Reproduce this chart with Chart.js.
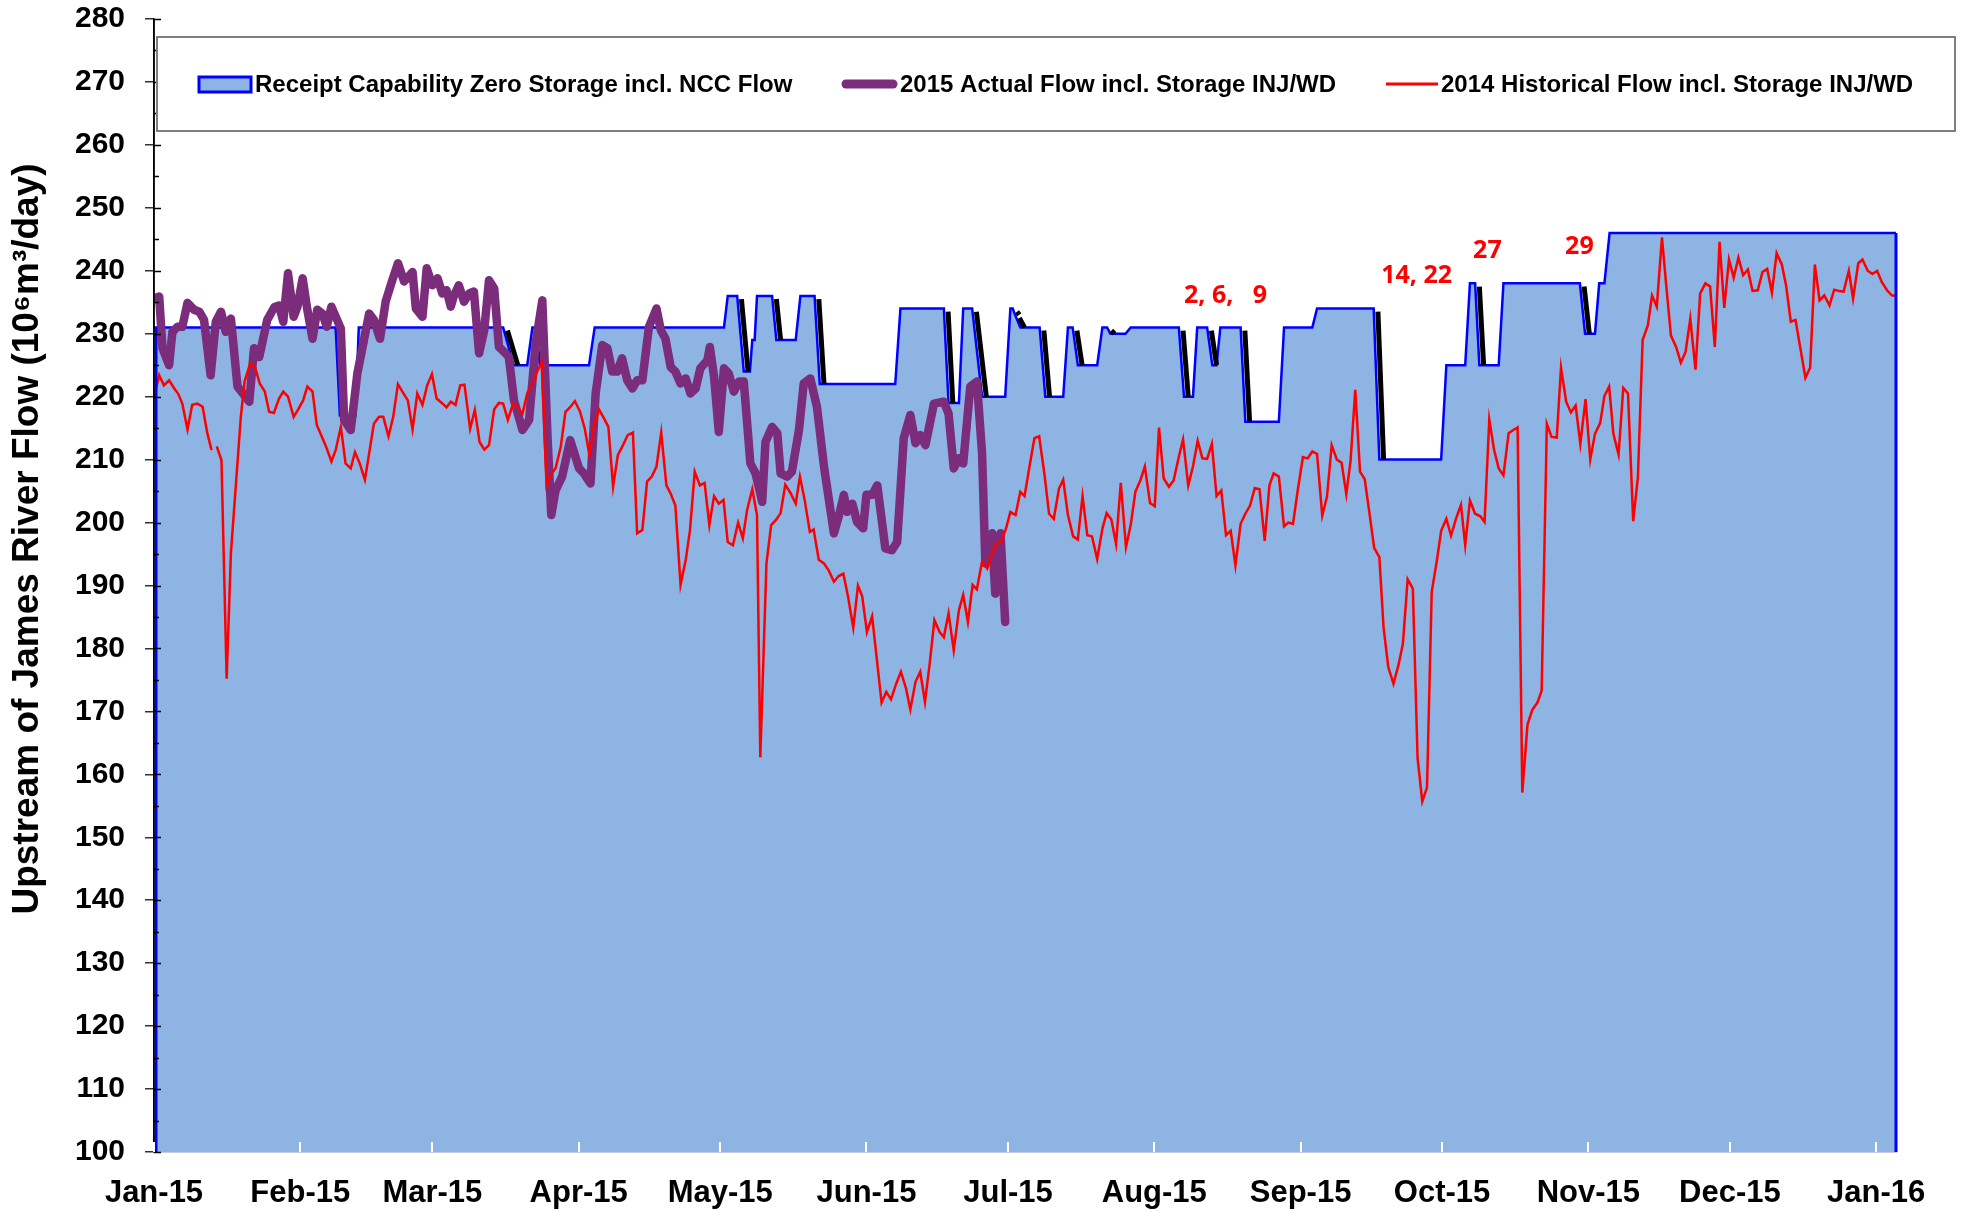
<!DOCTYPE html>
<html>
<head>
<meta charset="utf-8">
<title>Upstream of James River Flow</title>
<script src="https://cdn.jsdelivr.net/npm/chart.js@4.4.1/dist/chart.umd.min.js"></script>
<style>
  body { margin: 0; background: #fff; }
  #wrap { width: 1969px; height: 1212px; position: relative; }
</style>
</head>
<body>
<div id="wrap"><canvas id="mainChart"></canvas></div>
<script>
// x values are days since 1 Jan 2015
const monthDays = [0, 31, 59, 90, 120, 151, 181, 212, 243, 273, 304, 334, 365]
const monthLabels = ['Jan-15', 'Feb-15', 'Mar-15', 'Apr-15', 'May-15', 'Jun-15', 'Jul-15',
                     'Aug-15', 'Sep-15', 'Oct-15', 'Nov-15', 'Dec-15', 'Jan-16']

// Receipt Capability Zero Storage incl. NCC Flow (step line)
const capDays = [0, 38.5, 39.4, 42.7, 43.4, 74.0, 76.2, 79.1, 80.2, 81.0, 81.8, 92.2, 93.4,
  120.8, 121.6, 123.6, 125.0, 126.3, 126.8, 127.3, 127.8, 131.0, 131.9, 136.0, 137.0, 140.0, 141.1,
  157.1, 158.2, 167.4, 168.4, 170.6, 171.5, 173.4, 175.5, 180.4, 181.5, 182.0, 182.5, 183.6, 187.7, 188.9,
  192.7, 193.7, 194.7, 195.8, 199.9, 201.0, 202.0, 202.7, 205.9, 207.0, 217.2, 218.3, 220.2, 221.1,
  223.2, 224.3, 225.2, 226.0, 230.3, 231.3, 238.4, 239.5, 245.5, 246.5, 258.5, 259.7, 272.8, 273.9,
  277.9, 278.9, 280.0, 280.9, 285.0, 286.0, 302.2, 303.3, 305.4, 306.3, 307.4, 308.5, 369.2]
const capFlow = [231, 231, 217, 217, 231, 231, 225, 225, 231, 231, 225, 225, 231,
  231, 236, 236, 224, 224, 229, 229, 236, 236, 229, 229, 236, 236, 222,
  222, 234, 234, 219, 219, 234, 234, 220, 220, 234, 234, 233, 231, 231, 220,
  220, 231, 231, 225, 225, 231, 231, 230, 230, 231, 231, 220, 220, 231,
  231, 225, 225, 231, 231, 216, 216, 231, 231, 234, 234, 210, 210, 225,
  225, 238, 238, 225, 225, 238, 238, 230, 230, 238, 238, 246, 246]

// 2015 Actual Flow incl. Storage INJ/WD
const actDays = [0, 1.1, 1.8, 3.2, 3.9, 5.0, 6.0, 7.1, 8.5, 9.6, 10.6, 12.0, 13.1, 14.2, 15.2, 16.3,
  17.7, 20.2, 21.2, 22.3, 24.0, 25.5, 26.5, 27.4, 28.4, 29.6, 30.4, 31.5, 32.5, 33.6, 34.6, 35.7,
  36.6, 37.6, 39.6, 40.3, 41.7, 43.1, 45.6, 46.6, 47.9, 49.1, 50.5, 51.7, 53.0, 54.8, 55.5, 56.9,
  57.8, 59.0, 60.1, 61.1, 62.0, 62.9, 63.6, 64.6, 65.7, 66.8, 67.8, 68.9, 70.0, 71.0, 72.1, 73.1,
  74.5, 75.2, 76.3, 78.1, 79.5, 80.9, 82.3, 83.4, 84.2, 85.1, 86.5, 88.2, 90.1, 91.1, 92.5, 93.6,
  95.0, 96.1, 97.1, 98.2, 99.2, 100.3, 101.4, 102.4, 103.5, 104.9, 106.5, 107.4, 108.4, 109.5,
  110.5, 111.6, 112.7, 113.7, 114.8, 115.8, 117.3, 117.8, 118.7, 119.7, 120.8, 121.8, 122.9, 124.0,
  125.0, 126.4, 127.5, 128.9, 129.6, 131.0, 132.1, 132.8, 134.2, 135.2, 136.7, 137.7, 139.1, 140.5,
  142.0, 144.1, 145.1, 146.2, 146.9, 148.0, 149.0, 150.3, 151.0, 152.2, 153.3, 155.0, 156.4, 157.5,
  158.9, 160.3, 161.4, 162.4, 163.5, 165.3, 167.4, 168.4, 169.5, 170.6, 171.5, 173.0, 174.4, 175.5,
  176.2, 177.6, 178.3, 179.4, 180.4]
const actFlow = [235.6, 235.9, 227.7, 225.0, 230.3, 231.1, 231.1, 234.9, 233.8, 233.5, 232.2, 223.4, 231.9, 233.5, 230.3, 232.4,
  221.6, 219.2, 227.7, 226.3, 232.2, 234.2, 234.5, 231.9, 239.6, 232.7, 234.3, 238.8, 233.8, 229.2, 233.8, 233.2,
  231.1, 234.3, 230.8, 216.3, 214.7, 223.7, 233.2, 232.2, 229.2, 235.1, 238.5, 241.2, 238.3, 239.8, 234.0, 232.7,
  240.4, 237.7, 238.8, 236.4, 236.9, 234.3, 236.1, 237.7, 235.1, 236.4, 236.7, 226.9, 230.6, 238.5, 237.2, 227.9,
  226.9, 226.3, 219.4, 214.7, 216.3, 228.5, 235.3, 213.6, 201.2, 205.1, 207.3, 213.1, 208.6, 207.8, 206.2, 220.5,
  228.2, 227.7, 224.0, 224.0, 226.1, 222.6, 221.3, 222.6, 222.6, 231.1, 234.0, 230.6, 229.2, 224.7,
  224.0, 222.1, 222.9, 220.5, 221.3, 224.5, 225.8, 227.9, 223.2, 214.4, 224.5, 223.7, 220.8, 222.4,
  222.4, 209.4, 207.8, 203.3, 212.8, 215.2, 214.2, 207.8, 207.3, 208.1, 214.7, 222.1, 222.9, 218.4,
  208.9, 198.3, 200.9, 204.4, 201.7, 203.0, 200.1, 199.1, 204.4, 204.4, 205.9, 195.9, 195.6, 196.9,
  213.4, 217.1, 212.6, 213.9, 212.3, 218.9, 219.2, 217.3, 208.6, 210.2, 209.4, 221.6, 222.4, 211.0,
  193.5, 198.3, 188.7, 198.3, 184.2]

// 2014 Historical Flow incl. Storage INJ/WD (null = missing day)
const histDays = [0, 1.1, 2.1, 3.2, 4.3, 5.1, 6.0, 7.1, 8.1, 9.2, 10.3, 11.3, 12.2, 12.8, 13.3, 14.3,
  15.4, 16.3, 18.4, 19.2, 20.4, 21.4, 22.4, 23.5, 24.4, 25.4, 26.5, 27.4, 28.4, 29.6, 30.5, 31.6,
  32.5, 33.6, 34.5, 35.6, 36.6, 37.6, 38.5, 39.6, 40.6, 41.7, 42.6, 43.6, 44.7, 46.6, 47.7, 48.6,
  49.7, 50.7, 51.7, 52.9, 53.8, 54.8, 55.8, 56.9, 57.9, 58.9, 59.9, 61.0, 62.0, 62.9, 63.9, 64.9,
  65.8, 67.0, 68.0, 69.0, 70.0, 71.0, 72.1, 73.1, 74.0, 75.0, 76.1, 77.0, 78.1, 79.1, 80.2, 81.2,
  82.2, 83.2, 84.3, 85.1, 86.2, 87.2, 88.3, 89.2, 90.3, 91.3, 92.3, 93.2, 94.3, 95.4, 96.3, 97.3,
  98.3, 99.4, 100.4, 101.5, 102.4, 103.5, 104.5, 105.5, 106.5, 107.5, 108.6, 109.5, 110.5, 111.6,
  112.7, 113.6, 114.6, 115.7, 116.7, 117.7, 118.7, 119.7, 120.7, 121.6, 122.7, 123.8, 124.8, 125.7,
  126.8, 127.8, 128.5, 129.8, 130.8, 131.9, 132.8, 133.8, 134.9, 136.0, 136.9, 137.9, 139.0, 139.8,
  140.9, 142.0, 143.0, 144.1, 145.1, 146.1, 147.1, 148.2, 149.2, 150.1, 151.1, 152.2, 153.3, 154.2,
  155.2, 156.2, 157.3, 158.3, 159.4, 160.3, 161.4, 162.4, 163.4, 164.4, 165.4, 166.5, 167.4, 168.4,
  169.5, 170.6, 171.5, 172.5, 173.5, 174.4, 175.5, 176.6, 177.6, 178.5, 179.5, 180.6, 181.5, 182.6,
  183.6, 184.5, 185.6, 186.6, 187.6, 188.7, 189.7, 190.7, 191.8, 192.7, 193.7, 194.8, 195.8, 196.8,
  197.8, 198.8, 199.9, 201.0, 201.9, 202.9, 203.9, 204.9, 206.0, 207.0, 208.0, 209.1, 210.0, 211.1,
  212.1, 213.0, 214.0, 215.1, 216.1, 217.2, 218.1, 219.2, 220.2, 221.2, 222.2, 223.2, 224.2, 225.2,
  226.2, 227.2, 228.2, 229.2, 230.3, 231.3, 232.3, 233.3, 234.3, 235.4, 236.4, 237.3, 238.4, 239.5,
  240.4, 241.4, 242.4, 243.5, 244.5, 245.5, 246.5, 247.6, 248.6, 249.6, 250.7, 251.7, 252.7, 253.6,
  254.6, 255.6, 256.6, 257.6, 258.6, 259.7, 260.6, 261.6, 262.7, 263.8, 264.7, 265.7, 266.8, 267.8,
  268.8, 269.8, 270.8, 271.9, 272.8, 273.9, 274.9, 275.9, 277.0, 277.9, 278.9, 280.0, 281.1, 282.0,
  283.0, 284.0, 285.0, 286.0, 287.1, 288.1, 289.0, 290.0, 291.1, 292.1, 293.2, 294.1, 295.2, 296.2,
  297.3, 298.2, 299.3, 300.3, 301.3, 302.3, 303.4, 304.4, 305.4, 306.5, 307.4, 308.4, 309.3, 310.4,
  311.4, 312.4, 313.5, 314.5, 315.5, 316.6, 317.5, 318.5, 319.6, 320.5, 321.5, 322.6, 323.6, 324.6,
  325.6, 326.7, 327.7, 328.8, 329.8, 330.8, 331.8, 332.8, 333.8, 334.8, 335.8, 336.8, 337.8, 338.8,
  339.9, 340.9, 341.9, 342.9, 343.9, 345.0, 345.9, 346.9, 347.9, 349.0, 350.0, 351.0, 352.0, 353.0,
  354.0, 355.1, 356.1, 357.1, 358.1, 359.2, 360.1, 361.2, 362.1, 363.2, 364.2, 365.2, 366.2, 367.3,
  368.3, 369.2]
const histFlow = [220.0, 223.4, 221.8, 222.6, 221.3, 220.5, 218.9, 214.8, 218.7, 218.9, 218.4, 214.2, 211.5, null, 212.1, 209.9,
  175.2, 195.1, 216.8, 222.4, 225.3, 224.7, 222.1, 220.8, 217.6, 217.4, 219.7, 220.8, 220.0, 216.8, 217.9, 219.4,
  221.6, 220.8, 215.5, 213.6, 211.8, 209.7, 211.5, 215.2, 209.4, 208.6, 211.2, 209.4, 206.8, 215.7, 216.8, 216.8,
  213.7, 216.8, 222.0, 220.5, 219.4, 214.8, 220.5, 218.7, 221.8, 223.6, 219.7, 219.0, 218.3, 219.2, 218.7, 221.8,
  221.9, 214.9, 217.9, 212.8, 211.6, 212.3, 218.0, 219.0, 218.9, 216.3, 218.9, 218.4, 217.3, 220.5, 222.1, 224.0,
  225.5, 205.9, 207.8, 208.6, 212.0, 217.6, 218.4, 219.3, 217.6, 214.9, 210.7, 215.2, 218.0, 216.5, 215.2, 205.7,
  210.7, 212.3, 213.9, 214.3, 198.3, 198.8, 206.5, 207.3, 208.9, 214.3, 205.9, 204.6, 202.7, 190.1,
  194.1, 198.8, 208.1, 205.9, 206.3, 199.6, 204.2, 203.0, 203.6, 196.9, 196.4, 200.0, 197.5, 202.0,
  205.3, 201.2, 162.7, 193.5, 199.6, 200.5, 201.5, 206.0, 204.7, 203.0, 207.3, 203.6, 198.5, 198.9,
  194.1, 193.5, 192.4, 190.6, 191.5, 191.9, 188.2, 183.3, 190.0, 188.3, 182.6, 185.1, 177.6, 171.4,
  173.1, 171.9, 174.4, 176.3, 173.6, 170.3, 174.7, 176.3, 171.5, 177.6, 184.5, 182.6, 181.8, 185.6,
  179.7, 186.1, 188.5, 184.2, 190.1, 189.4, 193.8, 192.7, 195.1, 196.7, 196.8, 199.1, 201.7, 201.2,
  204.9, 204.2, 209.1, 213.4, 213.7, 207.8, 201.4, 200.6, 205.4, 206.8, 201.2, 197.8, 197.3, 204.2,
  198.0, 197.8, 194.2, 199.0, 201.5, 200.5, 196.6, 206.3, 196.1, 199.6, 204.9, 206.8, 208.9, 203.1,
  202.6, 215.1, 207.0, 205.7, 206.7, 210.4, 213.2, 205.9, 208.9, 213.0, 210.2, 210.1, 212.5, 204.2,
  205.1, 198.0, 198.7, 193.2, 199.8, 201.4, 202.7, 205.5, 205.3, 197.1, 205.9, 207.8, 207.3, 199.4,
  200.0, 199.8, 205.1, 210.4, 210.2, 211.3, 210.9, 201.1, 204.1, 212.3, 210.0, 209.5, 204.5, 209.8,
  221.1, 208.1, 206.9, 201.5, 196.0, 194.5, 183.3, 177.0, 174.4, 177.5, 180.8, 191.0, 189.5, 162.6,
  155.7, 157.9, 189.0, 194.0, 198.7, 200.6, 197.9, 200.5, 202.8, 196.4, 203.5, 201.4, 201.0, 200.1,
  216.4, 211.6, 208.6, 207.5, 214.2, 214.7, 215.1, 157.1, 167.9, 170.2, 171.4, 173.3, 215.7, 213.6,
  213.5, 224.6, 219.2, 217.5, 218.6, 212.5, 219.6, 210.0, 214.1, 215.8, 220.1, 221.6, 214.1, 210.8,
  221.4, 220.5, 200.2, 207.2, 229.0, 231.3, 236.1, 234.3, 245.3, 237.7, 229.7, 227.9, 225.4, 227.1,
  232.4, 224.3, 236.4, 238.0, 237.5, 227.9, 244.6, 234.1, 241.8, 238.9, 242.1, 239.3, 240.2, 236.8,
  236.9, 239.8, 240.3, 236.5, 242.8, 241.0, 237.7, 231.9, 232.2, 227.4, 223.0, 224.6, 241.0, 235.3,
  236.1, 234.5, 237.0, 236.8, 236.7, 240.0, 235.6, 241.2, 241.8, 240.0, 239.5, 240.0, 238.2, 236.9,
  236.1, 236.0]

// red notes above the capability line
const noteText = ['2, 6,   9', '14, 22', '27', '29']
const noteDay = [227.1, 267.6, 282.6, 302.1]
const noteFlow = [236.0, 239.2, 243.1, 243.8]

const FONT = "'Liberation Sans', Arial, sans-serif"
const FILL = '#8eb4e3'

function toPoints(xs, ys) {
    let pts = []
    for (let i = 0; i < xs.length; i++) {
        pts.push({ x: xs[i], y: ys[i] })
    }
    return pts
}

// black shadow next to every drop of the capability line
function dropShadow(xs, ys) {
    let pts = []
    for (let i = 0; i < xs.length - 1; i++) {
        if (ys[i + 1] < ys[i]) {
            pts.push({ x: xs[i] + 0.9, y: ys[i] - 0.5 })
            pts.push({ x: xs[i + 1] + 0.9, y: ys[i + 1] })
            pts.push({ x: xs[i + 1] + 1.0, y: null })
        }
    }
    return pts
}

const decor = {
    id: 'decor',
    afterDatasetsDraw(chart) {
        const ctx = chart.ctx
        const x = chart.scales.x
        const y = chart.scales.y
        const area = chart.chartArea
        ctx.save()
        // area edges
        ctx.strokeStyle = '#0000ff'
        ctx.lineWidth = 3
        ctx.beginPath()
        ctx.moveTo(area.left + 2, y.getPixelForValue(capFlow[0]))
        ctx.lineTo(area.left + 2, area.bottom)
        ctx.moveTo(x.getPixelForValue(capDays[capDays.length - 1]), y.getPixelForValue(capFlow[capFlow.length - 1]))
        ctx.lineTo(x.getPixelForValue(capDays[capDays.length - 1]), area.bottom)
        ctx.stroke()
        // y axis line and inner ticks
        ctx.strokeStyle = '#000'
        ctx.lineWidth = 1.5
        ctx.beginPath()
        ctx.moveTo(area.left, area.top)
        ctx.lineTo(area.left, area.bottom)
        for (let v = 100; v <= 280; v += 5) {
            const py = Math.round(y.getPixelForValue(v)) + 0.5
            ctx.moveTo(area.left, py)
            ctx.lineTo(area.left + (v % 10 === 0 ? 7 : 5), py)
        }
        ctx.stroke()
        // white month ticks on the bottom
        ctx.strokeStyle = '#fff'
        ctx.lineWidth = 2
        ctx.beginPath()
        monthDays.forEach(d => {
            const px = Math.round(x.getPixelForValue(d))
            ctx.moveTo(px, area.bottom)
            ctx.lineTo(px, area.bottom - 10)
        })
        ctx.stroke()
        // notes
        ctx.fillStyle = '#ff0000'
        ctx.font = "bold 25px 'Open Sans', sans-serif"
        ctx.textAlign = 'center'
        ctx.textBaseline = 'middle'
        for (let i = 0; i < noteText.length; i++) {
            ctx.fillText(noteText[i], x.getPixelForValue(noteDay[i]), y.getPixelForValue(noteFlow[i]))
        }
        ctx.restore()
    },
    afterDraw(chart) {
        const ctx = chart.ctx
        const ds = chart.data.datasets
        ctx.save()
        // legend box
        ctx.fillStyle = '#fff'
        ctx.fillRect(157, 37, 1798, 94)
        ctx.strokeStyle = '#7f7f7f'
        ctx.lineWidth = 2
        ctx.strokeRect(157, 37, 1798, 94)
        ctx.font = 'bold 24px ' + FONT
        ctx.textBaseline = 'middle'
        ctx.textAlign = 'left'
        // item 1
        ctx.fillStyle = FILL
        ctx.fillRect(199, 77, 52, 15)
        ctx.strokeStyle = '#0000ff'
        ctx.lineWidth = 3
        ctx.strokeRect(199, 77, 52, 15)
        ctx.fillStyle = '#000'
        ctx.fillText(ds[0].label, 255, 85)
        // item 2
        ctx.lineCap = 'round'
        ctx.strokeStyle = ds[2].borderColor
        ctx.lineWidth = 9
        ctx.beginPath()
        ctx.moveTo(846, 84)
        ctx.lineTo(893, 84)
        ctx.stroke()
        ctx.fillText(ds[2].label, 900, 85)
        // item 3
        ctx.lineCap = 'butt'
        ctx.strokeStyle = ds[3].borderColor
        ctx.lineWidth = 3
        ctx.beginPath()
        ctx.moveTo(1386, 84)
        ctx.lineTo(1438, 84)
        ctx.stroke()
        ctx.fillText(ds[3].label, 1441, 85)
        // y axis title
        ctx.translate(28, 539)
        ctx.rotate(-Math.PI / 2)
        ctx.textAlign = 'center'
        ctx.font = 'bold 37px ' + FONT
        ctx.fillText('Upstream of James River Flow (10\u2076m\u00b3/day)', 0, 0)
        ctx.restore()
    }
}

const ctx = document.getElementById('mainChart').getContext('2d')
const mainChart = new Chart(ctx, {
    type: 'line',
    data: {
        datasets: [{
            label: 'Receipt Capability Zero Storage incl. NCC Flow',
            data: toPoints(capDays, capFlow),
            borderColor: '#0000ff',
            borderWidth: 2.5,
            backgroundColor: FILL,
            fill: 'start',
            order: 4
        },
        {
            label: 'shadow',
            data: dropShadow(capDays, capFlow),
            borderColor: '#000000',
            borderWidth: 5,
            fill: false,
            spanGaps: false,
            order: 3
        },
        {
            label: '2015 Actual Flow incl. Storage INJ/WD',
            data: toPoints(actDays, actFlow),
            borderColor: '#7b2c7b',
            borderWidth: 8.5,
            borderJoinStyle: 'round',
            borderCapStyle: 'round',
            fill: false,
            order: 2
        },
        {
            label: '2014 Historical Flow incl. Storage INJ/WD',
            data: toPoints(histDays, histFlow),
            borderColor: '#ff0000',
            borderWidth: 2.5,
            fill: false,
            spanGaps: false,
            order: 1
        }]
    },
    options: {
        responsive: true,
        maintainAspectRatio: false,
        animation: false,
        layout: { padding: { top: 19, right: 73, left: 0, bottom: 0 } },
        elements: { point: { radius: 0 }, line: { tension: 0 } },
        plugins: {
            legend: { display: false },
            tooltip: { enabled: false }
        },
        scales: {
            x: {
                type: 'linear',
                min: 0,
                max: 369.2,
                afterBuildTicks: scale => { scale.ticks = monthDays.map(v => ({ value: v })) },
                afterFit: scale => {
                    scale.height = 60
                    scale.paddingLeft = 0
                    scale.paddingRight = 0
                },
                ticks: {
                    autoSkip: false,
                    maxRotation: 0,
                    padding: 23,
                    color: '#000',
                    font: { family: FONT, size: 31, weight: 'bold' },
                    callback: v => monthLabels[monthDays.indexOf(v)]
                },
                grid: { display: false, drawTicks: false },
                border: { display: true, color: '#c9c9e6', width: 2 }
            },
            y: {
                min: 100,
                max: 280,
                afterFit: scale => {
                    scale.width = 154
                    scale.paddingTop = 0
                    scale.paddingBottom = 0
                },
                ticks: {
                    stepSize: 5,
                    autoSkip: false,
                    padding: 20,
                    color: '#000',
                    font: { family: FONT, size: 30, weight: 'bold' },
                    callback: v => v % 10 === 0 ? v : ''
                },
                grid: {
                    drawOnChartArea: false,
                    tickLength: 9,
                    lineWidth: 1.5,
                    color: c => (c.tick && c.tick.value % 10 === 0) ? '#333' : 'rgba(0,0,0,0)'
                },
                border: { display: true, color: '#000', width: 1.5 }
            }
        }
    },
    plugins: [decor]
})
</script>
</body>
</html>
